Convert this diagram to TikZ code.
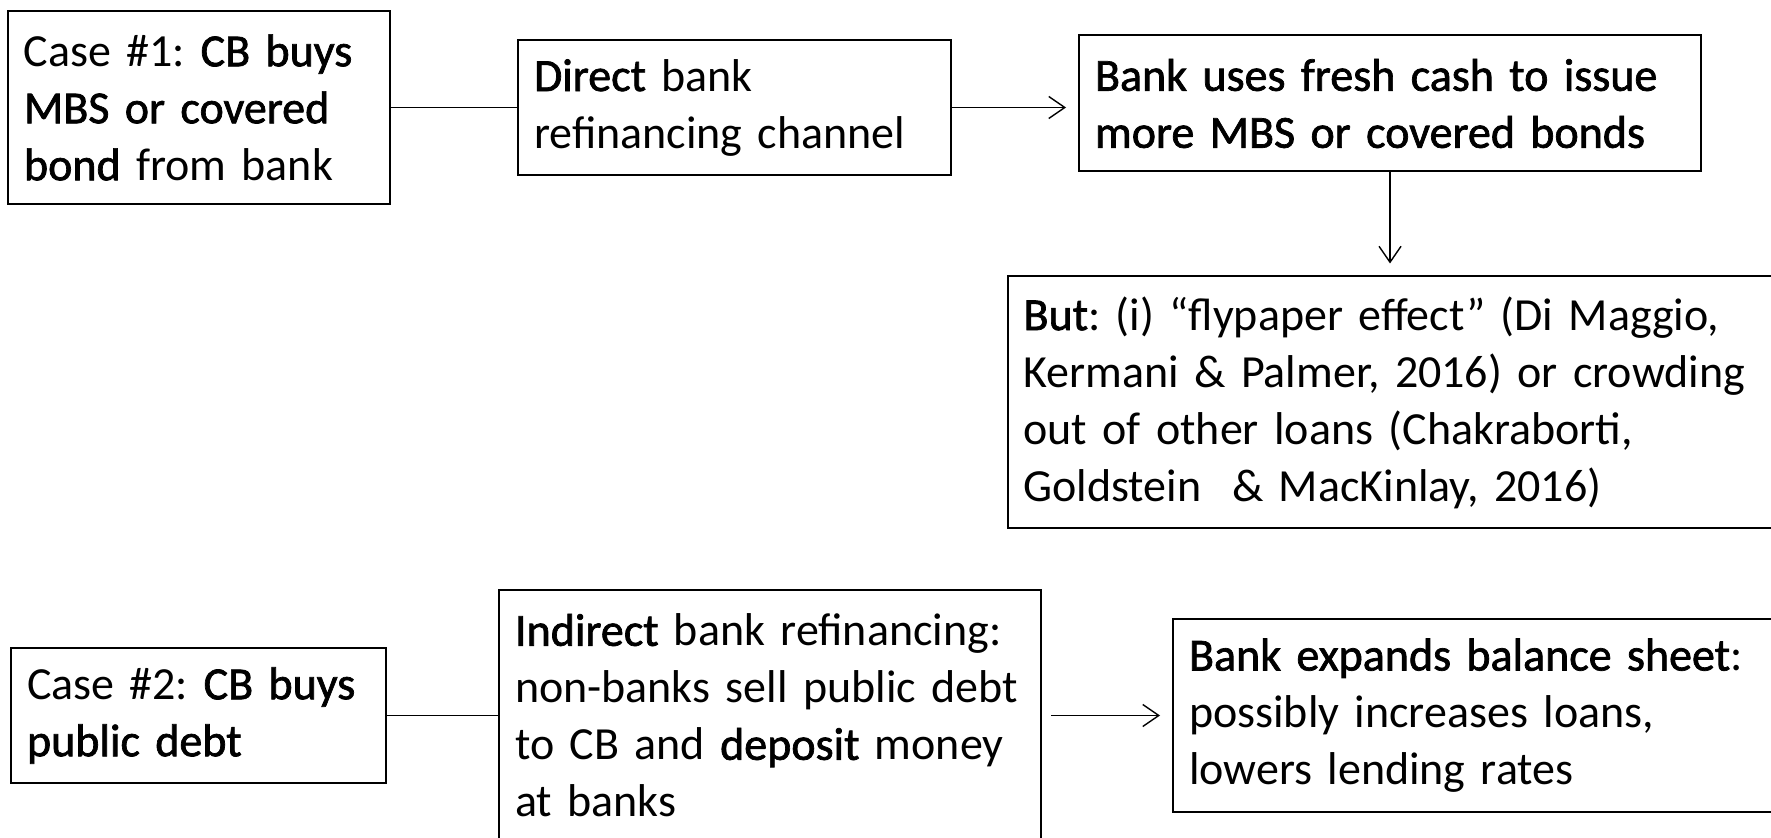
\documentclass[tikz,border=0pt]{standalone}
\usepackage{fontspec}
\setmainfont{Carlito}
\frenchspacing
\hyphenpenalty=10000
% heavier text without changing widths
\newcommand{\hl}[1]{\special{pdf:literal direct 2 Tr 0.35 w}#1\special{pdf:literal direct 0 Tr}}
\usetikzlibrary{positioning}
\usetikzlibrary{arrows.meta}

\tikzset{
  box/.style={draw, line width=1pt, inner xsep=8pt, inner ysep=0pt,
    align=left, font=\fontsize{23}{28.5}\selectfont},
  link/.style={line width=0.7pt},
  flow/.style={link, -{Straight Barb[length=8pt,width=11pt]}, shorten >=6pt},
}

\begin{document}
\begin{tikzpicture}[x=0.5pt, y=-0.5pt]
        \useasboundingbox (0,0) rectangle (1771,838);

        % case 1: MBS / covered bonds
        \node[box, text width=175pt, minimum height=96.5pt] (caseA) at (199,107.5)
          {Case \#1: \hl{CB buys}\\\hl{MBS or covered}\\\hl{bond} from bank};
        \node[box, text width=200.5pt, minimum height=67.5pt, right=63pt of caseA] (direct)
          {\hl{Direct} bank\\refinancing channel};
        \node[box, text width=295pt, minimum height=68pt, right=63pt of direct, yshift=2pt] (reissue)
          {\hl{Bank uses fresh cash to issue}\\\hl{more MBS or covered bonds}};
        \node[box, text width=366.5pt, minimum height=126pt, below=51.5pt of reissue] (caveat)
          {\hl{But}: (i) “flypaper effect” (Di Maggio,\\Kermani \& Palmer, 2016) or crowding\\out of other loans (Chakraborti,\\Goldstein~ \& MacKinlay, 2016)};

        % case 2: public debt
        \node[box, text width=171.5pt, minimum height=67.5pt] (caseB) at (198.5,715.5)
          {Case \#2: \hl{CB buys}\\\hl{public debt}};
        \node[box, text width=255pt, minimum height=125pt, right=55.5pt of caseB] (indirect)
          {\hl{Indirect} bank refinancing:\\non-banks sell public debt\\to CB and \hl{deposit} money\\at banks};
        \node[box, text width=284pt, minimum height=96.5pt, right=65pt of indirect] (expand)
          {\hl{Bank expands balance sheet}:\\possibly increases loans,\\lowers lending rates};

        \draw[link] (caseA) -- (direct);
        \draw[flow] (direct.east) -- (direct.east -| reissue.west);
        \draw[flow] (reissue) -- (caveat);
        \draw[link] (caseB) -- (indirect);
        \draw[flow, shorten <=4.5pt] (indirect) -- (expand);
      \end{tikzpicture}
\end{document}
